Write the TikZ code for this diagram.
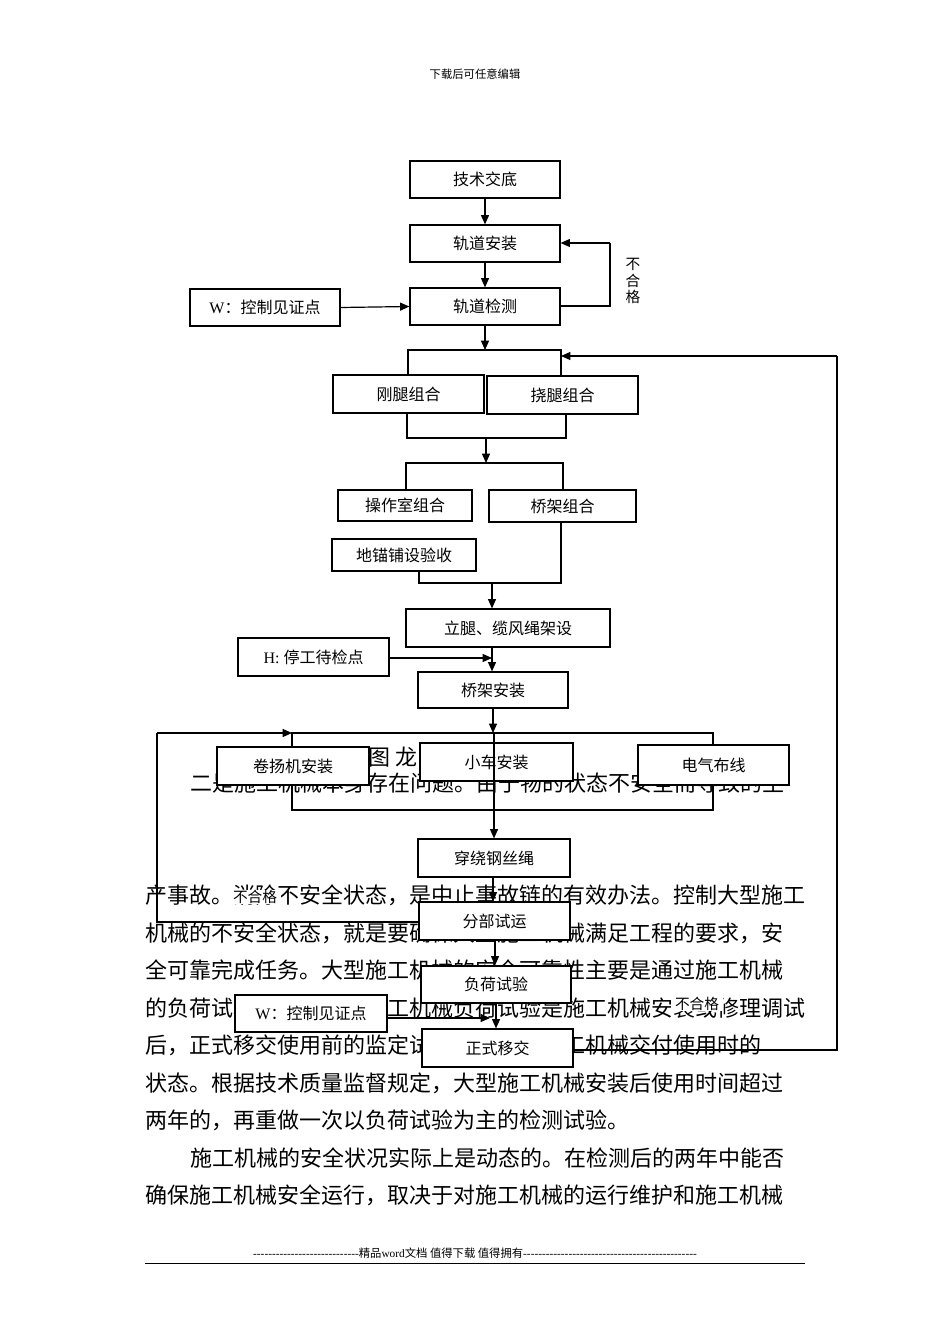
\documentclass[tikz,border=0pt]{standalone}
\usepackage{fontspec}
\setmainfont{Liberation Serif}
\newfontfamily\cjk{Noto Sans CJK SC}
\usetikzlibrary{arrows.meta}
\XeTeXlinebreaklocale "zh"
\XeTeXlinebreakskip=0pt plus 2pt
\newcommand\mybox[6]{\node[box,minimum width={(#4-#2)*0.75pt},minimum height={(#5-#3)*0.75pt}] (#1) at ({(#2+#4)/2},{(#3+#5)/2}) {#6};}
\newcommand\dsh[1]{\ifnum#1>0 -\kern0pt\expandafter\dsh\expandafter{\the\numexpr#1-1\relax}\fi}
\newcommand\fl[1]{\makebox[495pt][s]{#1}}
\begin{document}
\begin{tikzpicture}[x=0.75pt,y=-0.75pt,
  box/.style={draw,line width=0.9pt,fill=white,inner sep=0pt,font=\cjk\fontsize{12}{14}\selectfont},
  ln/.style={line width=0.9pt},
  arr/.style={line width=0.9pt,-{Triangle[length=7pt,width=6pt]}},
  body/.style={anchor=west,inner sep=0pt,font=\cjk\fontsize{16.5}{18}\selectfont},
  lbl/.style={inner sep=0pt,fill=white,font=\cjk\fontsize{11}{13}\selectfont}]
\useasboundingbox[fill=white] (0,0) rectangle (950,1344);
\node[inner sep=0pt,font=\cjk\fontsize{8.5}{10}\selectfont] (hdr) at (475,74) {下载后可任意编辑};
% body text
\node[inner sep=0pt,anchor=west,font=\cjk\fontsize{16.5}{18}\selectfont] (cap) at (368,757) {图\ 龙门吊安装工程};
\node[body] (t1) at (190,783) {\makebox[461pt][s]{二是施工机械本身存在问题。由于物的状态不安全而导致的生}};
\node[body] (t2) at (145,895) {\fl{产事故。消除不安全状态，是中止事故链的有效办法。控制大型施工}};
\node[body] (t3) at (145,933) {\fl{机械的不安全状态，就是要确保大型施工机械满足工程的要求，安}};
\node[body] (t4) at (145,970) {\fl{全可靠完成任务。大型施工机械的安全可靠性主要是通过施工机械}};
\node[body] (t5) at (145,1008) {\fl{的负荷试验来检验的。施工机械负荷试验是施工机械安装或修理调试}};
\node[body] (t6) at (145,1045) {\fl{后，正式移交使用前的监定试验，它反映施工机械交付使用时的}};
\node[body] (t7) at (145,1083) {\fl{状态。根据技术质量监督规定，大型施工机械安装后使用时间超过}};
\node[body] (t8) at (145,1120) {两年的，再重做一次以负荷试验为主的检测试验。};
\node[body] (t9) at (190,1158) {\makebox[461pt][s]{施工机械的安全状况实际上是动态的。在检测后的两年中能否}};
\node[body] (t10) at (145,1195) {\fl{确保施工机械安全运行，取决于对施工机械的运行维护和施工机械}};
\node[inner sep=0pt,font=\cjk\fontsize{8.5}{10}\selectfont] (ftr) at (475,1253) {\rmfamily\dsh{28}\cjk 精品\rmfamily word\cjk 文档 值得下载 值得拥有\rmfamily\dsh{46}};
\coordinate (fl1) at (145,1263); \coordinate (fl2) at (805,1263);
\draw[line width=0.6pt] (fl1) -- (fl2);
% boxes
\mybox{a}{410}{161}{560}{198}{技术交底}
\mybox{b}{410}{225}{560}{262}{轨道安装}
\mybox{c}{410}{288}{560}{325}{轨道检测}
\mybox{w1}{190}{289}{340}{326}{\rmfamily W\cjk ：控制见证点}
\mybox{d1}{333}{375}{484}{413}{刚腿组合}
\mybox{d2}{487}{376}{638}{414}{挠腿组合}
\mybox{e1}{338}{490}{472}{521}{操作室组合}
\mybox{e2}{489}{490}{636}{522}{桥架组合}
\mybox{e3}{332}{539}{476}{571}{地锚铺设验收}
\mybox{f}{406}{609}{610}{647}{立腿、缆风绳架设}
\mybox{h}{238}{638}{389}{676}{\rmfamily H: \cjk 停工待检点}
\mybox{g}{418}{672}{568}{708}{桥架安装}
\mybox{k1}{217}{747}{369}{785}{卷扬机安装}
\mybox{k2}{420}{743}{573}{781}{小车安装}
\mybox{k3}{638}{745}{789}{785}{电气布线}
\mybox{m}{418}{839}{570}{877}{穿绕钢丝绳}
\mybox{n}{419}{902}{570}{940}{分部试运}
\mybox{p}{421}{966}{571}{1003}{负荷试验}
\mybox{w2}{235}{995}{387}{1032}{\rmfamily W\cjk ：控制见证点}
\mybox{q}{422}{1029}{573}{1067}{正式移交}
% labels
\node[lbl,align=center,font=\cjk\fontsize{11}{12.5}\selectfont,fill=none] (bh1) at (633,281) {不\\合\\格};
\node[lbl,inner xsep=3pt] (bh2) at (255,897) {不合格};
\node[lbl,inner xsep=3pt] (bh3) at (697,1004) {不合格};
% coordinates
\coordinate (s1) at (408,350); \coordinate (s2) at (561,350);
\coordinate (u1) at (407,438); \coordinate (u2) at (566,438);
\coordinate (v1) at (406,463); \coordinate (v2) at (563,463);
\coordinate (x1) at (419,583); \coordinate (x2) at (561,583);
\coordinate (y1) at (292,733); \coordinate (y2) at (713,733);
\coordinate (z1) at (292,810); \coordinate (z2) at (713,810);
\coordinate (r1) at (610,306); \coordinate (r2) at (610,243);
\coordinate (L1) at (157,733); \coordinate (L2) at (157,922);
\coordinate (R1) at (837,356); \coordinate (R2) at (837,1050);
\coordinate (R3) at (561,356);
% connectors
\draw[arr] (a) -- (b);
\draw[arr] (b) -- (c);
\draw[arr] (w1.east) -- (c.west);
\draw[ln] (c.east |- r1) -- (r1) -- (r2);
\draw[arr] (r2) -- (b.east |- r2);
\draw[arr] (c.south) -- (485,350);
\draw[ln] (s1 |- d1.north) -- (s1) -- (s2) -- (s2 |- d2.north);
\draw[ln] (u1 |- d1.south) -- (u1) -- (u2) -- (u2 |- d2.south);
\draw[arr] (486,438) -- (486,463);
\draw[ln] (v1 |- e1.north) -- (v1) -- (v2) -- (v2 |- e2.north);
\draw[ln] (x1 |- e3.south) -- (x1) -- (x2) -- (x2 |- e2.south);
\draw[arr] (492,583) -- (f.north -| 492,0);
\draw[arr] (f.south -| 492,0) -- (g.north -| 492,0);
\draw[arr] (h.east |- 0,658) -- (492,658);
\draw[arr] (g.south -| 493,0) -- (493,733);
\draw[ln] (y1 |- k1.north) -- (y1) -- (y2) -- (y2 |- k3.north);
\draw[ln] (z1 |- k1.south) -- (z1) -- (z2) -- (z2 |- k3.south);
\draw[arr] (494,733) -- (m.north -| 494,0);
\draw[arr] (m.south -| 493,0) -- (n.north -| 493,0);
\draw[ln] (n.west |- L2) -- (L2) -- (L1);
\draw[arr] (L1) -- (y1);
\draw[arr] (n.south -| 495,0) -- (p.north -| 495,0);
\draw[arr] (p.south -| 496,0) -- (q.north -| 496,0);
\draw[arr] (w2.east |- 0,1018) -- (490,1018);
\draw[ln] (q.east |- R2) -- (R2) -- (R1);
\draw[arr] (R1) -- (R3);
\end{tikzpicture}
\end{document}
